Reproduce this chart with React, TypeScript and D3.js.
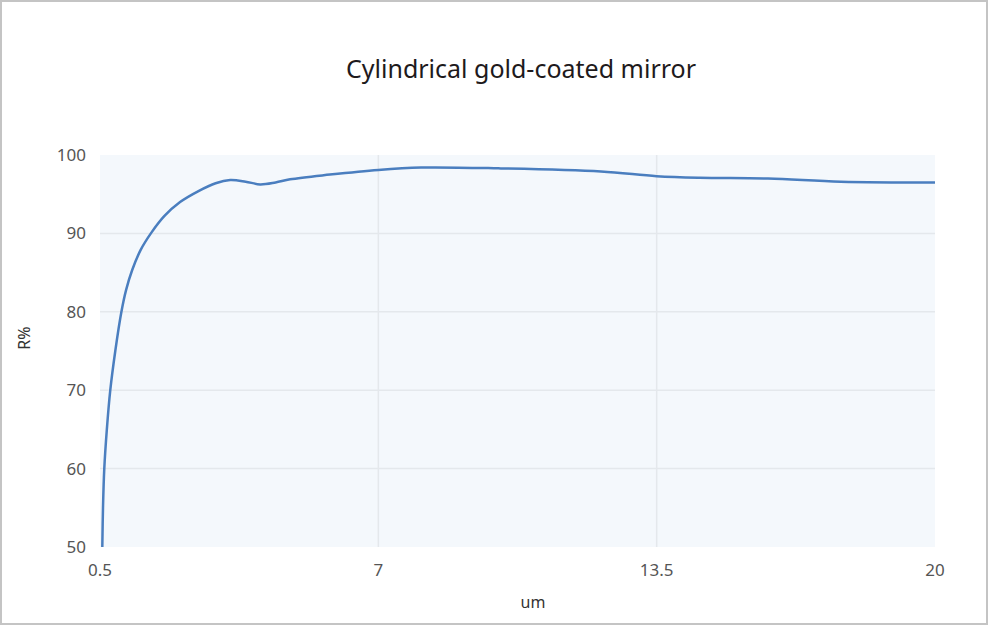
import * as d3 from "d3";

// wavelength (um) and reflectance (%)
const wavelength = [0.554, 0.57, 0.6, 0.66, 0.74, 0.857, 1.0, 1.11, 1.25, 1.45, 1.7, 2.0, 2.37, 2.8, 3.2, 3.54, 3.9, 4.24, 4.6, 4.94, 5.87, 7, 8, 9.8, 12.2, 13.5, 14.5, 16.1, 17.8, 20];
const reflectance = [50, 55, 60, 65, 70, 75, 80, 82.8, 85.3, 87.9, 90.1, 92.2, 94, 95.4, 96.4, 96.8, 96.6, 96.25, 96.5, 96.9, 97.5, 98.1, 98.4, 98.3, 97.9, 97.3, 97.1, 97.0, 96.6, 96.5];

const xTicks = [0.5, 7, 13.5, 20];
const yTicks = [50, 60, 70, 80, 90, 100];

const title = "Cylindrical gold-coated mirror";
const xLabel = "um";
const yLabel = "R%";

const width = 989;
const height = 639;
const margin = { top: 155, right: 54, bottom: 92, left: 100 };
const font = "'Noto Sans', 'DejaVu Sans', sans-serif";

export default function App() {
  const innerW = width - margin.left - margin.right;
  const innerH = height - margin.top - margin.bottom;

  const x = d3.scaleLinear().domain([0.5, 20]).range([0, innerW]);
  const y = d3.scaleLinear().domain([50, 100]).range([innerH, 0]);

  const points: [number, number][] = wavelength.map((w, i) => [w, reflectance[i]]);
  const line = d3
    .line<[number, number]>()
    .x((d) => x(d[0]))
    .y((d) => y(d[1]))
    .curve(d3.curveCatmullRom.alpha(0.5));

  return (
    <div style={{ position: "absolute", left: 0, top: 0 }}>
      <svg width={width} height={height} style={{ display: "block", background: "#fff" }}>
        <rect x={1} y={1} width={986} height={623} fill="#fff" stroke="#c4c4c4" strokeWidth={2} />

        <text
          x={521}
          y={78}
          textAnchor="middle"
          style={{ fontFamily: font, fontSize: "25px", fill: "#1e1a1c" }}
        >
          {title}
        </text>

        <g transform={`translate(${margin.left},${margin.top})`}>
          <rect width={innerW} height={innerH} fill="#f4f8fc" />

          {yTicks
            .filter((t) => t !== 50 && t !== 100)
            .map((t) => (
              <line key={t} x1={0} x2={innerW} y1={y(t)} y2={y(t)} stroke="#e4e8ec" strokeWidth={1.5} />
            ))}
          {xTicks
            .filter((t) => t !== 0.5 && t !== 20)
            .map((t) => (
              <line key={t} x1={x(t)} x2={x(t)} y1={0} y2={innerH} stroke="#e4e8ec" strokeWidth={1.5} />
            ))}

          <path d={line(points) ?? ""} fill="none" stroke="#4a7ebf" strokeWidth={2.5} />

          {yTicks.map((t) => (
            <text
              key={t}
              x={-14}
              y={y(t)}
              dy="0.35em"
              textAnchor="end"
              style={{ fontFamily: font, fontSize: "17px", fill: "#555" }}
            >
              {t}
            </text>
          ))}
          {xTicks.map((t) => (
            <text
              key={t}
              x={x(t)}
              y={innerH + 29}
              textAnchor="middle"
              style={{ fontFamily: font, fontSize: "17px", fill: "#555" }}
            >
              {t}
            </text>
          ))}
        </g>

        <text
          x={533}
          y={608}
          textAnchor="middle"
          style={{ fontFamily: font, fontSize: "16px", fill: "#333" }}
        >
          {xLabel}
        </text>
        <text
          transform="translate(30,338) rotate(-90)"
          textAnchor="middle"
          style={{ fontFamily: font, fontSize: "16px", fill: "#333" }}
        >
          {yLabel}
        </text>
      </svg>
    </div>
  );
}
